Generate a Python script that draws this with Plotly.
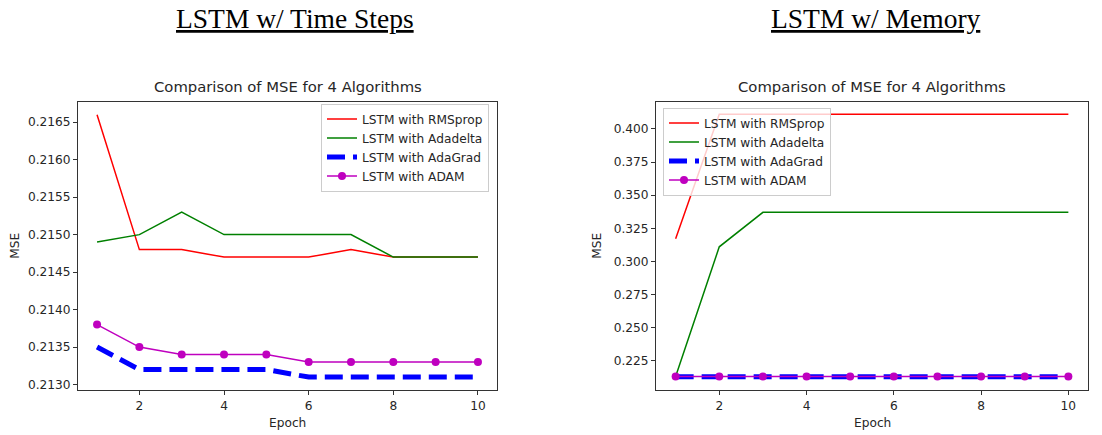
import plotly.graph_objects as go

# Epochs shared by both experiments
epochs = [1, 2, 3, 4, 5, 6, 7, 8, 9, 10]

# LSTM w/ Time Steps: MSE per epoch
ts_rmsprop = [0.2166, 0.2148, 0.2148, 0.2147, 0.2147, 0.2147, 0.2148, 0.2147, 0.2147, 0.2147]
ts_adadelta = [0.2149, 0.2150, 0.2153, 0.2150, 0.2150, 0.2150, 0.2150, 0.2147, 0.2147, 0.2147]
ts_adagrad = [0.2135, 0.2132, 0.2132, 0.2132, 0.2132, 0.2131, 0.2131, 0.2131, 0.2131, 0.2131]
ts_adam = [0.2138, 0.2135, 0.2134, 0.2134, 0.2134, 0.2133, 0.2133, 0.2133, 0.2133, 0.2133]

# LSTM w/ Memory: MSE per epoch
mem_rmsprop = [0.317, 0.411, 0.411, 0.411, 0.411, 0.411, 0.411, 0.411, 0.411, 0.411]
mem_adadelta = [0.213, 0.311, 0.337, 0.337, 0.337, 0.337, 0.337, 0.337, 0.337, 0.337]
mem_adagrad = [0.2128, 0.2128, 0.2128, 0.2128, 0.2128, 0.2128, 0.2128, 0.2128, 0.2128, 0.2128]
mem_adam = [0.213, 0.213, 0.213, 0.213, 0.213, 0.213, 0.213, 0.213, 0.213, 0.213]

series_names = ["LSTM with RMSprop", "LSTM with Adadelta", "LSTM with AdaGrad", "LSTM with ADAM"]

panel_titles = ["LSTM w/ Time Steps", "LSTM w/ Memory"]
chart_title = "Comparison of MSE for 4 Algorithms"
x_ticks = [2, 4, 6, 8, 10]
ts_y_ticks = [0.2130, 0.2135, 0.2140, 0.2145, 0.2150, 0.2155, 0.2160, 0.2165]
mem_y_ticks = [0.225, 0.250, 0.275, 0.300, 0.325, 0.350, 0.375, 0.400]

W, H = 1102, 435
FONT = "DejaVu Sans"
TXT = "#262626"
SMALL = 12.2
TITLE = 14.8


def px_x(p):
    return p / W


def px_y(p):
    return 1 - p / H


styles = [
    dict(mode="lines", line=dict(color="#ff0000", width=1.5)),
    dict(mode="lines", line=dict(color="#008000", width=1.5)),
    dict(mode="lines", line=dict(color="#0000ff", width=5, dash="18px,8px")),
    dict(mode="lines+markers", line=dict(color="#bf00bf", width=1.5),
         marker=dict(color="#bf00bf", size=8)),
]

fig = go.Figure()

panels = [
    ([ts_rmsprop, ts_adadelta, ts_adagrad, ts_adam], "x", "y", "legend"),
    ([mem_rmsprop, mem_adadelta, mem_adagrad, mem_adam], "x2", "y2", "legend2"),
]
for data, xa, ya, lg in panels:
    for name, vals, st in zip(series_names, data, styles):
        fig.add_trace(go.Scatter(x=epochs, y=vals, name=name, xaxis=xa, yaxis=ya,
                                 legend=lg, **st))

axis_common = dict(
    showline=True, mirror=True, linecolor="#333333", linewidth=1,
    ticks="outside", ticklen=4, tickwidth=1, tickcolor="#333333",
    showgrid=False, zeroline=False,
    tickfont=dict(family=FONT, size=SMALL, color=TXT),
)

# pixel geometry of the two plotting frames
L1, R1 = 78, 497
L2, R2 = 656, 1088
T, B = 102, 392

legend_common = dict(bgcolor="rgba(255,255,255,0.8)", bordercolor="#cccccc", borderwidth=1,
                     font=dict(family=FONT, size=SMALL, color=TXT), tracegroupgap=0)

fig.update_layout(
    width=W, height=H,
    margin=dict(l=0, r=0, t=0, b=0),
    paper_bgcolor="white", plot_bgcolor="white",
    font=dict(family=FONT, color=TXT),
    xaxis=dict(domain=[px_x(L1), px_x(R1)], range=[0.55, 10.45], tickvals=x_ticks,
               anchor="y", **axis_common),
    yaxis=dict(domain=[px_y(B), px_y(T)], range=[0.212925, 0.216775],
               tickvals=ts_y_ticks, tickformat=".4f", anchor="x", **axis_common),
    xaxis2=dict(domain=[px_x(L2), px_x(R2)], range=[0.55, 10.45], tickvals=x_ticks,
                anchor="y2", **axis_common),
    yaxis2=dict(domain=[px_y(B), px_y(T)], range=[0.2027, 0.4207],
                tickvals=mem_y_ticks, tickformat=".3f", anchor="x2", **axis_common),
    legend=dict(x=px_x(489), y=px_y(104), xanchor="right", yanchor="top", **legend_common),
    legend2=dict(x=px_x(663), y=px_y(108), xanchor="left", yanchor="top", **legend_common),
    showlegend=True,
)

annotations = []
panel_geom = [(L1, R1, 294.5, 15), (L2, R2, 876, 597)]
for (l, r, head_x, mse_x), big in zip(panel_geom, panel_titles):
    cx = px_x((l + r) / 2)
    annotations.append(dict(text=f"<u>{big}</u>", x=px_x(head_x), y=px_y(19),
                            xref="paper", yref="paper", showarrow=False,
                            xanchor="center", yanchor="middle",
                            font=dict(family="Liberation Serif", size=27.5, color="black")))
    annotations.append(dict(text=chart_title, x=cx, y=px_y(87), xref="paper", yref="paper",
                            showarrow=False, xanchor="center", yanchor="middle",
                            font=dict(family=FONT, size=TITLE, color=TXT)))
    annotations.append(dict(text="Epoch", x=cx, y=px_y(425), xref="paper", yref="paper",
                            showarrow=False, xanchor="center", yanchor="middle",
                            font=dict(family=FONT, size=SMALL, color=TXT)))
    annotations.append(dict(text="MSE", x=px_x(mse_x), y=px_y((T + B) / 2), xref="paper",
                            yref="paper", showarrow=False, textangle=-90,
                            xanchor="center", yanchor="middle",
                            font=dict(family=FONT, size=SMALL, color=TXT)))
fig.update_layout(annotations=annotations)

fig.write_html("out.html")
